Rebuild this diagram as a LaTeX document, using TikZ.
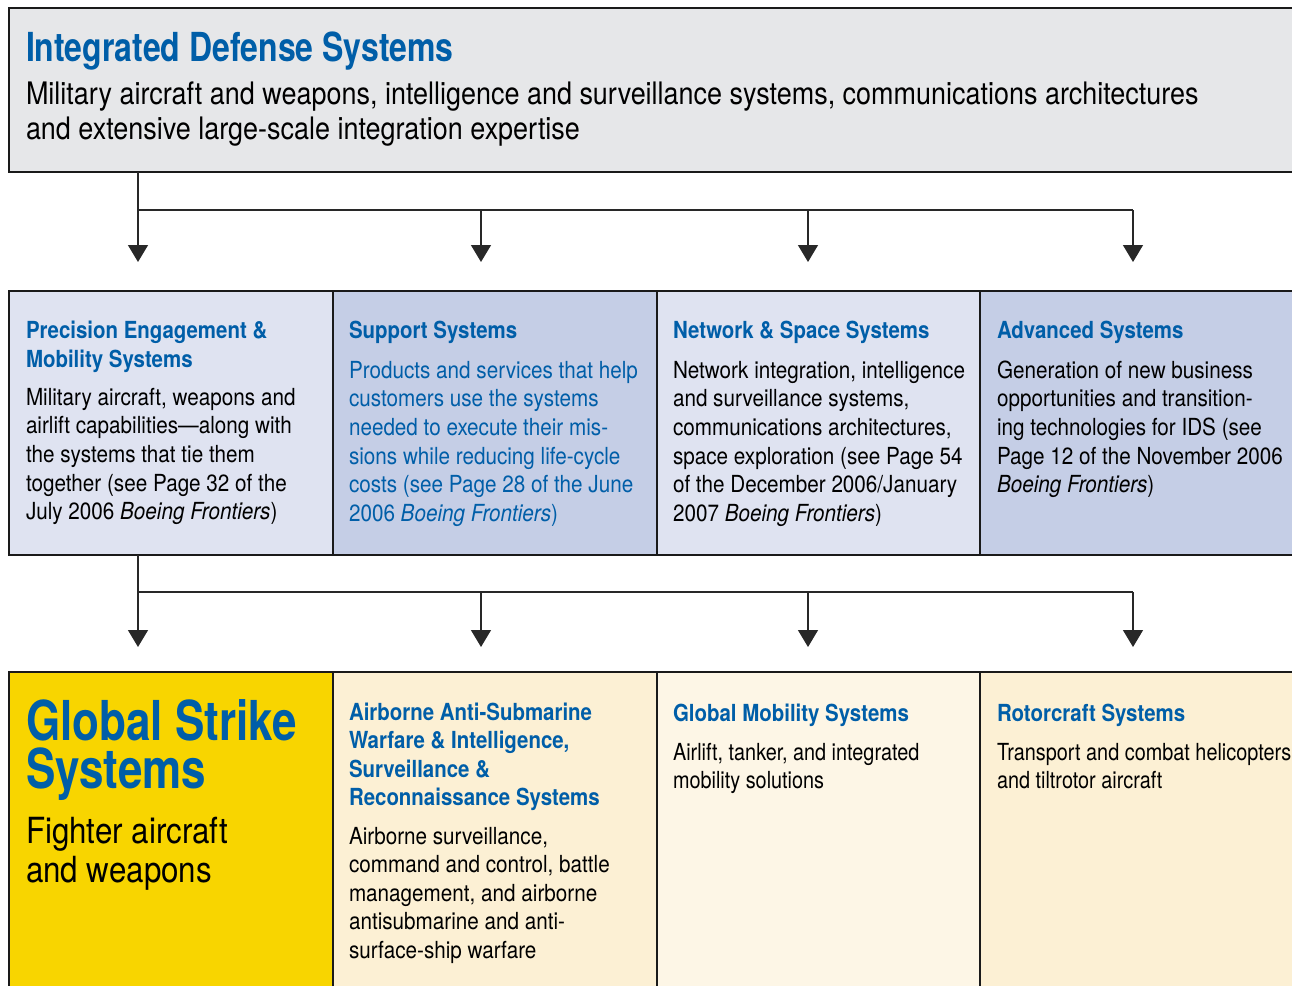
\documentclass[tikz,border=0pt]{standalone}
\usepackage{fontspec}
\setmainfont{TeX Gyre Heros}[FakeStretch=0.87]
\newfontfamily\cndfont{TeX Gyre Heros}[FakeStretch=0.80]
\newfontfamily\midfont{TeX Gyre Heros}[FakeStretch=0.845]
\newfontfamily\bodyfont{TeX Gyre Heros}[FakeStretch=0.88]
\usetikzlibrary{arrows.meta}
\definecolor{ibl}{RGB}{0,94,168}
\definecolor{bord}{RGB}{26,26,26}
\definecolor{lnk}{RGB}{40,40,40}
\definecolor{topgray}{RGB}{230,231,233}
\definecolor{midlight}{RGB}{223,227,241}
\definecolor{middark}{RGB}{197,206,230}
\definecolor{yel}{RGB}{248,213,0}
\definecolor{cream}{RGB}{252,240,212}
\definecolor{creamlt}{RGB}{253,246,230}
\newcommand{\blk}[1]{\begin{tabular}[t]{@{}l@{}}#1\end{tabular}}
\tikzset{
  box/.style={draw=bord, line width=2.6pt, inner sep=0pt, outer sep=0pt, anchor=north west},
  txt/.style={anchor=base west, inner sep=0pt, outer sep=0pt},
  hd/.style={txt, text=ibl, font=\fontsize{23.5}{29}\selectfont\bfseries},
  bd/.style={txt, font=\fontsize{23.5}{28.7}\selectfont\bodyfont},
  link/.style={draw=lnk, line width=1.4pt},
  arr/.style={link, -{Triangle[width=20pt,length=17pt]}},
}
\begin{document}
\begin{tikzpicture}[x=1pt,y=-1pt]
\useasboundingbox (0,0) rectangle (1292,985);
\fill[white] (0,0) rectangle (1292,985);
\clip (0,0) rectangle (1292,985);

% top box
\node[box, fill=topgray, minimum width=1320pt, minimum height=164pt] (ids) at (9,8) {};
\node[txt, text=ibl, font=\fontsize{40}{44}\selectfont\cndfont\bfseries] (idst) at (26,61) {Integrated Defense Systems};
\node[txt, font=\fontsize{31}{35}\selectfont] (idsb) at (26,104) {\blk{Military aircraft and weapons, intelligence and surveillance systems, communications architectures\\and extensive large-scale integration expertise}};

% middle row
\node[box, fill=midlight, minimum width=324pt, minimum height=264pt] (pe) at (9,291) {};
\node[box, fill=middark, minimum width=324pt, minimum height=264pt] (ss) at (333,291) {};
\node[box, fill=midlight, minimum width=323pt, minimum height=264pt] (ns) at (657,291) {};
\node[box, fill=middark, minimum width=340pt, minimum height=264pt] (as) at (980,291) {};

\node[hd] (peh) at (26,338) {\blk{Precision Engagement \&\\Mobility Systems}};
\node[bd] (peb) at (26,405) {\blk{Military aircraft, weapons and\\airlift capabilities—along with\\the systems that tie them\\together (see Page 32 of the\\July 2006 \textit{Boeing Frontiers})}};

\node[hd] (ssh) at (349,338) {Support Systems};
\node[bd, text=ibl] (ssb) at (349,378) {\blk{Products and services that help\\customers use the systems\\needed to execute their mis-\\sions while reducing life-cycle\\costs (see Page 28 of the June\\2006 \textit{Boeing Frontiers})}};

\node[hd] (nsh) at (673,338) {Network \& Space Systems};
\node[bd] (nsb) at (673,378) {\blk{Network integration, intelligence\\and surveillance systems,\\communications architectures,\\space exploration (see Page 54\\of the December 2006/January\\2007 \textit{Boeing Frontiers})}};

\node[hd] (ash) at (997,338) {Advanced Systems};
\node[bd] (asb) at (997,378) {\blk{Generation of new business\\opportunities and transition-\\ing technologies for IDS (see\\Page 12 of the November 2006\\\textit{Boeing Frontiers})}};

% bottom row
\node[box, fill=yel, minimum width=324pt, minimum height=340pt] (gs) at (9,672) {};
\node[box, fill=cream, minimum width=324pt, minimum height=340pt] (aa) at (333,672) {};
\node[box, fill=creamlt, minimum width=323pt, minimum height=340pt] (gm) at (657,672) {};
\node[box, fill=cream, minimum width=340pt, minimum height=340pt] (rs) at (980,672) {};

\node[txt, text=ibl, font=\fontsize{55}{48}\selectfont\cndfont\bfseries] (gsh) at (26,740) {\blk{Global Strike\\[-7pt]Systems}};
\node[txt, font=\fontsize{36}{40}\selectfont] (gsb) at (26,843) {\blk{Fighter aircraft\\[-1pt]and weapons}};

\node[hd, font=\fontsize{23.5}{28.5}\selectfont\bfseries] (aah) at (349,720) {\blk{Airborne Anti-Submarine\\Warfare \& Intelligence,\\Surveillance \&\\Reconnaissance Systems}};
\node[bd, font=\fontsize{23.5}{28.6}\selectfont\bodyfont] (aab) at (349,844) {\blk{Airborne surveillance,\\command and control, battle\\management, and airborne\\antisubmarine and anti-\\surface-ship warfare}};

\node[hd] (gmh) at (673,721) {Global Mobility Systems};
\node[bd, font=\fontsize{23.5}{28.3}\selectfont\midfont] (gmb) at (673,760) {\blk{Airlift, tanker, and integrated\\mobility solutions}};

\node[hd] (rsh) at (997,721) {Rotorcraft Systems};
\node[bd, font=\fontsize{23.5}{28.3}\selectfont\midfont] (rsb) at (997,760) {\blk{Transport and combat helicopters\\and tiltrotor aircraft}};

% connectors, first level
\coordinate (j1) at (138,210);
\coordinate (j2) at (481,210);
\coordinate (j3) at (808,210);
\coordinate (j4) at (1133,210);
\coordinate (a1) at (138,262);
\coordinate (a2) at (481,262);
\coordinate (a3) at (808,262);
\coordinate (a4) at (1133,262);
\draw[link] (ids.south -| j1) -- (j1) -- (j4);
\draw[arr] (j1) -- (a1);
\draw[arr] (j2) -- (a2);
\draw[arr] (j3) -- (a3);
\draw[arr] (j4) -- (a4);

% connectors, second level
\coordinate (k1) at (138,592);
\coordinate (k2) at (481,592);
\coordinate (k3) at (808,592);
\coordinate (k4) at (1133,592);
\coordinate (b1) at (138,647);
\coordinate (b2) at (481,647);
\coordinate (b3) at (808,647);
\coordinate (b4) at (1133,647);
\draw[link] (pe.south -| k1) -- (k1) -- (k4);
\draw[arr] (k1) -- (b1);
\draw[arr] (k2) -- (b2);
\draw[arr] (k3) -- (b3);
\draw[arr] (k4) -- (b4);
\end{tikzpicture}
\end{document}
